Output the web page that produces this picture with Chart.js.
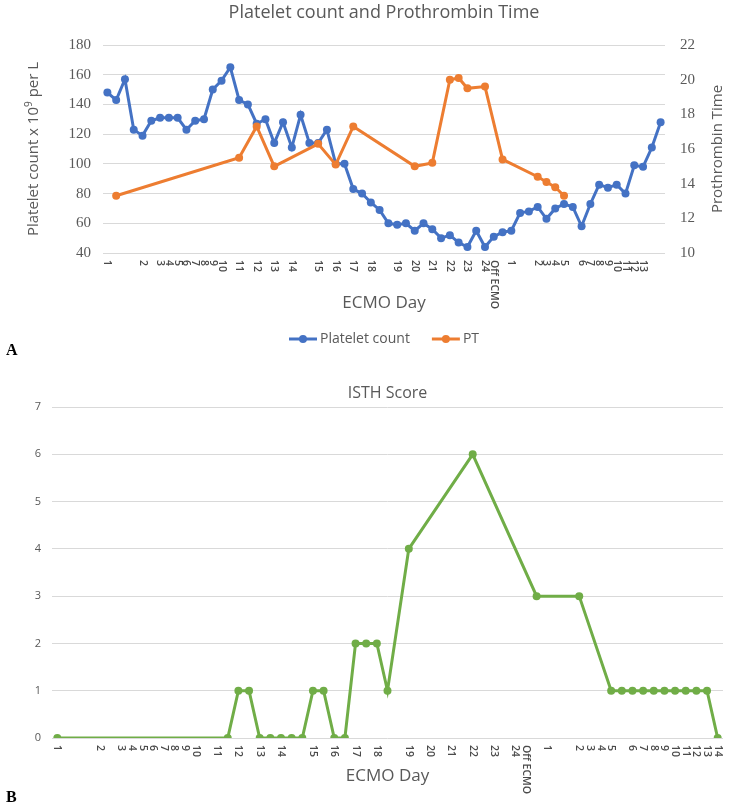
<!DOCTYPE html>
<html>
<head>
<meta charset="utf-8">
<script src="https://cdn.jsdelivr.net/npm/chart.js@4.4.1/dist/chart.umd.min.js"></script>
<style>
    body { margin: 0; background: #fff; width: 733px; height: 809px; position: relative; overflow: hidden; }
    canvas { position: absolute; left: 0; }
    #plateletChart { top: 0; }
    #isthChart { top: 360px; }
    .tag { position: absolute; left: 6px; font: bold 16px 'Liberation Serif', serif; color: #000; }
</style>
</head>
<body>
<canvas id="plateletChart" width="733" height="360"></canvas>
<canvas id="isthChart" width="733" height="449"></canvas>
<div class="tag" style="top:341px">A</div>
<div class="tag" style="top:788px">B</div>

<script>
// ECMO day labels, one per measurement (blank where Excel showed nothing)
const topDays = [
    '1', '', '', '', '2', '', '3', '4', '5', '6',
    '7', '8', '9', '10', '', '11', '', '12', '', '13',
    '', '14', '', '', '15', '', '16', '', '17', '',
    '18', '', '', '19', '', '20', '', '21', '', '22',
    '', '23', '', '24', 'Off ECMO', '', '1', '', '', '2',
    '3', '4', '5', '', '6', '7', '8', '9', '10', '11',
    '12', '13', '', ''
];

const isthDays = [
    '1', '', '', '', '2', '', '3', '4', '5', '6',
    '7', '8', '9', '10', '', '11', '', '12', '', '13',
    '', '14', '', '', '15', '', '16', '', '17', '',
    '18', '', '', '19', '', '20', '', '21', '', '22',
    '', '23', '', '24', 'Off ECMO', '', '1', '', '', '2',
    '3', '4', '5', '', '6', '7', '8', '9', '10', '11',
    '12', '13', '14'
];

// Platelet count x 10^9 per L
const plateletCount = [
    148, 143, 157, 123, 119, 129, 131, 131, 131, 123,
    129, 130, 150, 156, 165, 143, 140, 127, 130, 114,
    128, 111, 133, 114, 114, 123, 100, 100, 83, 80,
    74, 69, 60, 59, 60, 55, 60, 56, 50, 52,
    47, 44, 55, 44, 51, 54, 55, 67, 68, 71,
    63, 70, 73, 71, 58, 73, 86, 84, 86, 80,
    99, 98, 111, 128
];

// Prothrombin time (s), only measured on some days
const ptValues = [
    null, 13.3, null, null, null, null, null, null, null, null,
    null, null, null, null, null, 15.5, null, 17.3, null, 15.0,
    null, null, null, null, 16.3, null, 15.1, null, 17.3, null,
    null, null, null, null, null, 15.0, null, 15.2, null, 20.0,
    20.1, 19.5, null, 19.6, null, 15.4, null, null, null, 14.4,
    14.1, 13.8, 13.3, null, null, null, null, null, null, null,
    null, null, null, null
];

// ISTH DIC score
const isthScores = [
    0, null, null, null, null, null, null, null, null, null,
    null, null, null, null, null, null, 0, 1, 1, 0,
    0, 0, 0, 0, 1, 1, 0, 0, 2, 2,
    2, 1, null, 4, null, null, null, null, null, 6,
    null, null, null, null, null, 3, null, null, null, 3,
    null, null, 1, 1, 1, 1, 1, 1, 1, 1,
    1, 1, 0
];

const plateletTicks = [40, 180, 20];
const ptTicks = [10, 22, 2];
const isthTicks = [0, 7, 1];

const textGray = '#595959';
const gridGray = '#d9d9d9';
const sans = "'Open Sans', sans-serif";

// draws titles, rotated x labels and legend the way Excel lays them out
const extraText = {
    id: 'extraText',
    afterDraw(chart, args, opts) {
        const { ctx, chartArea, scales } = chart;
        const midX = (chartArea.left + chartArea.right) / 2;
        ctx.save();
        ctx.fillStyle = textGray;

        // x labels, rotated clockwise
        ctx.fillStyle = '#4a4a4a';
        ctx.font = opts.tickFont;
        ctx.textAlign = 'left';
        ctx.textBaseline = 'middle';
        scales.x.getLabels().forEach((lab, i) => {
            if (!lab) return;
            ctx.save();
            ctx.translate(scales.x.getPixelForValue(i), chartArea.bottom + opts.tickGap);
            ctx.rotate(Math.PI / 2);
            ctx.fillText(lab, 0, 0);
            ctx.restore();
        });
        ctx.fillStyle = textGray;

        ctx.textAlign = 'center';
        if (opts.title) {
            ctx.font = opts.title.font;
            ctx.fillText(opts.title.text, midX, opts.title.y);
        }
        if (opts.xTitle) {
            ctx.font = opts.xTitle.font;
            ctx.fillText(opts.xTitle.text, midX, opts.xTitle.y);
        }

        // y axis titles, reading bottom to top
        const midY = (chartArea.top + chartArea.bottom) / 2;
        (opts.yTitles || []).forEach(t => {
            ctx.save();
            ctx.translate(t.x, midY);
            ctx.rotate(-Math.PI / 2);
            ctx.textAlign = 'left';
            let total = 0;
            t.parts.forEach(p => {
                ctx.font = p.sup ? t.supFont : t.font;
                total += ctx.measureText(p.text).width;
            });
            let pos = -total / 2;
            t.parts.forEach(p => {
                ctx.font = p.sup ? t.supFont : t.font;
                ctx.fillText(p.text, pos, p.sup ? -5 : 0);
                pos += ctx.measureText(p.text).width;
            });
            ctx.restore();
        });

        // legend: line with marker, then label
        if (opts.legend) {
            ctx.font = opts.legend.font;
            ctx.textAlign = 'left';
            const sym = 28, gap = 3, between = 22;
            const items = chart.data.datasets.map(ds => ({ label: ds.label, color: ds.borderColor }));
            let total = 0;
            items.forEach((it, i) => {
                total += sym + gap + ctx.measureText(it.label).width + (i ? between : 0);
            });
            let x = midX - total / 2;
            const y = opts.legend.y;
            items.forEach(it => {
                ctx.strokeStyle = it.color;
                ctx.fillStyle = it.color;
                ctx.lineWidth = 3;
                ctx.beginPath();
                ctx.moveTo(x, y);
                ctx.lineTo(x + sym, y);
                ctx.stroke();
                ctx.beginPath();
                ctx.arc(x + sym / 2, y, 4, 0, Math.PI * 2);
                ctx.fill();
                ctx.fillStyle = textGray;
                ctx.fillText(it.label, x + sym + gap, y);
                x += sym + gap + ctx.measureText(it.label).width + between;
            });
        }
        ctx.restore();
    }
};

function lineSet(label, data, color, axis, order) {
    return {
        label: label,
        data: data,
        yAxisID: axis,
        borderColor: color,
        backgroundColor: color,
        borderWidth: 3,
        pointRadius: 4,
        pointHoverRadius: 4,
        pointBorderWidth: 0,
        tension: 0,
        spanGaps: true,
        order: order
    };
}

new Chart(document.getElementById('plateletChart'), {
    type: 'line',
    data: {
        labels: topDays,
        datasets: [
            lineSet('Platelet count', plateletCount, '#4472c4', 'y', 1),
            lineSet('PT', ptValues, '#ed7d31', 'y2', 0)
        ]
    },
    options: {
        responsive: false,
        animation: false,
        layout: { padding: { top: 45 } },
        plugins: {
            legend: { display: false },
            tooltip: { enabled: false },
            extraText: {
                tickFont: '600 10.5px ' + sans,
                tickGap: 7,
                title: { text: 'Platelet count and Prothrombin Time', y: 13, font: '18px ' + sans },
                xTitle: { text: 'ECMO Day', y: 303, font: '17px ' + sans },
                yTitles: [
                    { x: 34, font: '15px ' + sans, supFont: '10px ' + sans,
                      parts: [{ text: 'Platelet count x 10' }, { text: '9', sup: true }, { text: ' per L' }] },
                    { x: 718, font: '15px ' + sans, supFont: '10px ' + sans,
                      parts: [{ text: 'Prothrombin Time' }] }
                ],
                legend: { y: 339, font: '14px ' + sans }
            }
        },
        scales: {
            x: {
                type: 'category',
                offset: true,
                grid: { display: false },
                border: { display: false },
                ticks: { display: false },
                afterFit: s => { s.height = 107; }
            },
            y: {
                position: 'left',
                min: plateletTicks[0],
                max: plateletTicks[1],
                ticks: { stepSize: plateletTicks[2], color: textGray, padding: 12,
                         font: { family: 'Liberation Serif', size: 15 } },
                grid: { color: gridGray, drawTicks: false },
                border: { display: false },
                afterFit: s => { s.width = 103; }
            },
            y2: {
                position: 'right',
                min: ptTicks[0],
                max: ptTicks[1],
                ticks: { stepSize: ptTicks[2], color: textGray, padding: 15,
                         font: { family: 'Liberation Serif', size: 15 } },
                grid: { drawOnChartArea: false, drawTicks: false },
                border: { display: false },
                afterFit: s => { s.width = 68; }
            }
        }
    },
    plugins: [extraText]
});

new Chart(document.getElementById('isthChart'), {
    type: 'line',
    data: {
        labels: isthDays,
        datasets: [lineSet('ISTH Score', isthScores, '#70ad47', 'y', 0)]
    },
    options: {
        responsive: false,
        animation: false,
        layout: { padding: { top: 47, right: 10 } },
        plugins: {
            legend: { display: false },
            tooltip: { enabled: false },
            extraText: {
                tickFont: '600 10.5px ' + sans,
                tickGap: 7,
                title: { text: 'ISTH Score', y: 33, font: '16px ' + sans },
                xTitle: { text: 'ECMO Day', y: 416, font: '17px ' + sans }
            }
        },
        scales: {
            x: {
                type: 'category',
                offset: true,
                grid: { display: false },
                border: { display: false },
                ticks: { display: false },
                afterFit: s => { s.height = 71; }
            },
            y: {
                position: 'left',
                min: isthTicks[0],
                max: isthTicks[1],
                ticks: { stepSize: isthTicks[2], color: textGray, padding: 11,
                         font: { family: sans, size: 11 } },
                grid: { color: gridGray, drawTicks: false },
                border: { display: false },
                afterFit: s => { s.width = 52; }
            }
        }
    },
    plugins: [extraText]
});
</script>
</body>
</html>
